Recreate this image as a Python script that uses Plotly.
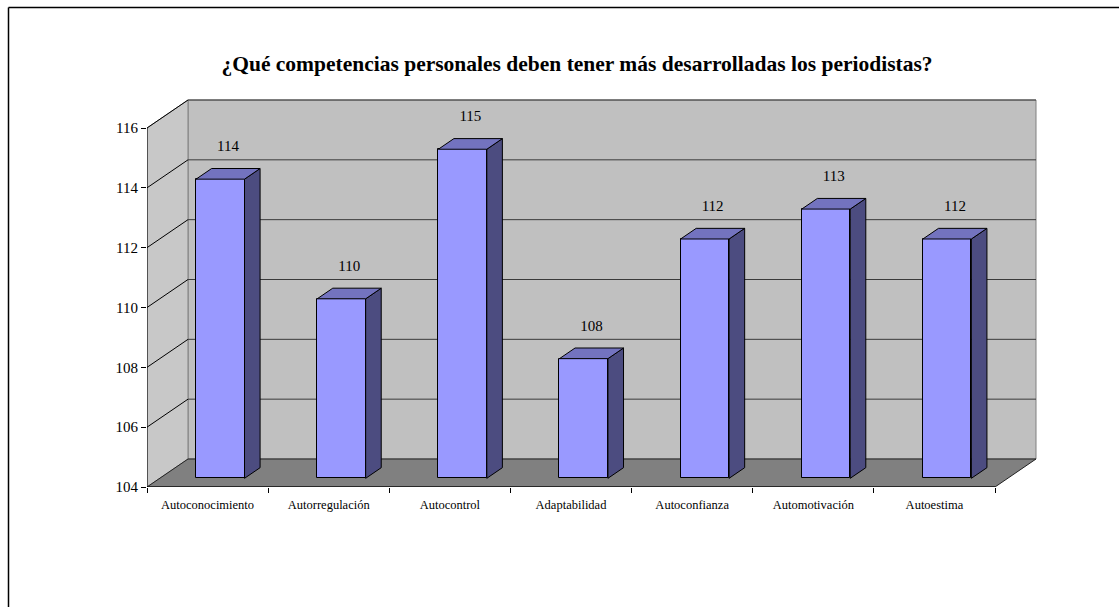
import plotly.graph_objects as go

# ---- data ----
categories = ["Autoconocimiento", "Autorregulación", "Autocontrol", "Adaptabilidad",
              "Autoconfianza", "Automotivación", "Autoestima"]
values = [114, 110, 115, 108, 112, 113, 112]
y_ticks = [104, 106, 108, 110, 112, 114, 116]
title_text = "¿Qué competencias personales deben tener más desarrolladas los periodistas?"

# ---- geometry (pseudo 3-D) ----
W, H = 1119, 607
PL, PR, PT, PB = 147, 1040, 95, 487          # plot area in pixels
YMIN, YMAX = 104, 116
N = len(categories)
X_PX = (995 - 147) / N                       # pixels per category
Y_PX = (487 - 128) / (YMAX - YMIN)           # pixels per value unit
DX = 41 / X_PX                               # depth offset in x units
DY = 28 / Y_PX                               # depth offset in y units
F0, F1 = 0.31, 0.69                          # bar front/back depth fractions
BW = 0.4                                     # bar width (category units)

xr = [0, (PR - PL) / X_PX]
yr = [YMIN, YMIN + (PB - PT) / Y_PX]

FONT = "Liberation Serif"
FRONT, TOP, SIDE = "#9999FF", "#7373BF", "#4C4C80"

fig = go.Figure()

# front faces of bars
fig.add_trace(go.Bar(
    x=[i + 0.5 + F0 * DX for i in range(N)],
    y=[v - YMIN for v in values],
    base=YMIN + F0 * DY,
    width=BW,
    marker=dict(color=FRONT, line=dict(color="black", width=1)),
    hoverinfo="skip", showlegend=False,
))

# side and top faces
for i, v in enumerate(values):
    xl = i + 0.5 - BW / 2
    xrgt = i + 0.5 + BW / 2
    side_x = [xrgt + F0 * DX, xrgt + F1 * DX, xrgt + F1 * DX, xrgt + F0 * DX, xrgt + F0 * DX]
    side_y = [YMIN + F0 * DY, YMIN + F1 * DY, v + F1 * DY, v + F0 * DY, YMIN + F0 * DY]
    fig.add_trace(go.Scatter(x=side_x, y=side_y, mode="lines", fill="toself",
                             fillcolor=SIDE, line=dict(color="black", width=1),
                             hoverinfo="skip", showlegend=False))
    top_x = [xl + F0 * DX, xrgt + F0 * DX, xrgt + F1 * DX, xl + F1 * DX, xl + F0 * DX]
    top_y = [v + F0 * DY, v + F0 * DY, v + F1 * DY, v + F1 * DY, v + F0 * DY]
    fig.add_trace(go.Scatter(x=top_x, y=top_y, mode="lines", fill="toself",
                             fillcolor=TOP, line=dict(color="black", width=1),
                             hoverinfo="skip", showlegend=False))

# value labels
fig.add_trace(go.Scatter(
    x=[i + 0.5 + 0.5 * DX for i in range(N)],
    y=[v + F1 * DY + 21 / Y_PX for v in values],
    mode="text", text=[str(v) for v in values],
    textfont=dict(family=FONT, size=15, color="black"),
    hoverinfo="skip", showlegend=False,
))

shapes = []
# back wall
shapes.append(dict(type="rect", xref="x", yref="y", x0=DX, x1=N + DX,
                   y0=YMIN + DY, y1=YMAX + DY, fillcolor="#C0C0C0",
                   line=dict(color="#808080", width=1), layer="below"))
# left wall
shapes.append(dict(type="path", xref="x", yref="y",
                   path=f"M0,{YMIN} L{DX},{YMIN + DY} L{DX},{YMAX + DY} L0,{YMAX} Z",
                   fillcolor="#C8C8C8", line=dict(color="#808080", width=1), layer="below"))
# floor
shapes.append(dict(type="path", xref="x", yref="y",
                   path=f"M0,{YMIN} L{N},{YMIN} L{N + DX},{YMIN + DY} L{DX},{YMIN + DY} Z",
                   fillcolor="#808080", line=dict(color="#222222", width=1), layer="below"))
# gridlines
for t in y_ticks[1:]:
    shapes.append(dict(type="line", xref="x", yref="y", x0=DX, x1=N + DX,
                       y0=t + DY, y1=t + DY, line=dict(color="#3A3A3A", width=1), layer="below"))
    shapes.append(dict(type="line", xref="x", yref="y", x0=0, x1=DX,
                       y0=t, y1=t + DY, line=dict(color="black", width=1), layer="below"))
# axis lines
shapes.append(dict(type="line", xref="x", yref="y", x0=0, x1=0, y0=YMIN, y1=YMAX,
                   line=dict(color="black", width=1)))
shapes.append(dict(type="line", xref="x", yref="y", x0=0, x1=N, y0=YMIN, y1=YMIN,
                   line=dict(color="black", width=1)))

# chart border (left and top edges)
def px_x(p):
    return (p - PL) / (PR - PL)

def px_y(p):
    return (PB - p) / (PB - PT)

shapes.append(dict(type="line", xref="paper", yref="paper",
                   x0=px_x(8.5), x1=px_x(8.5), y0=px_y(7.5), y1=px_y(H + 10),
                   line=dict(color="black", width=1.5)))
shapes.append(dict(type="line", xref="paper", yref="paper",
                   x0=px_x(8.5), x1=px_x(W + 10), y0=px_y(7.5), y1=px_y(7.5),
                   line=dict(color="black", width=1.5)))

fig.update_layout(
    width=W, height=H,
    margin=dict(l=PL, r=W - PR, t=PT, b=H - PB),
    paper_bgcolor="white", plot_bgcolor="rgba(0,0,0,0)",
    shapes=shapes,
    showlegend=False,
    title=dict(text="<b>" + title_text + "</b>", x=577 / W, xanchor="center",
               y=1 - 63 / H, yanchor="middle", yref="container",
               font=dict(family=FONT, size=21.5, color="black")),
    xaxis=dict(range=xr, showgrid=False, zeroline=False, showline=False,
               tickmode="array", tickvals=[i + 0.5 for i in range(N)], ticktext=categories,
               ticks="outside", ticklen=6, tickcolor="rgba(0,0,0,0)",
               tickfont=dict(family=FONT, size=12.5, color="black"),
               minor=dict(tickmode="array", tickvals=list(range(N + 1)), ticks="outside",
                          ticklen=5, tickcolor="black", tickwidth=1, showgrid=False)),
    yaxis=dict(range=yr, showgrid=False, zeroline=False, showline=False,
               tickmode="array", tickvals=y_ticks, ticks="outside", ticklen=5,
               tickcolor="black", tickwidth=1,
               tickfont=dict(family=FONT, size=15, color="black")),
    bargap=0,
)

fig.write_html("out.html")
